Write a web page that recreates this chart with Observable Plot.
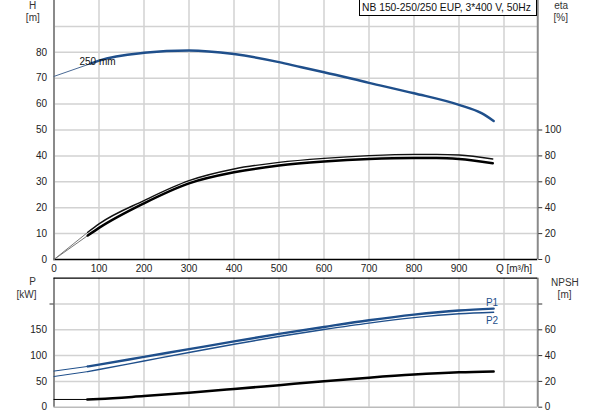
<!DOCTYPE html>
<html><head><meta charset="utf-8">
<script src="https://cdn.jsdelivr.net/npm/d3@7"></script>
<script src="https://cdn.jsdelivr.net/npm/@observablehq/plot@0.6"></script>
<style>
body{margin:0;background:#fff;}
#wrap{position:relative;width:593px;height:415px;overflow:hidden;font-family:"Liberation Sans",Arial,sans-serif;background:#fff;}
#top{position:absolute;left:0;top:0;}
#bot{position:absolute;left:0;top:275px;}
#title{position:absolute;left:359px;top:-1px;width:178px;height:17px;border:1px solid #000;background:#fff;font-size:10.3px;line-height:16px;padding-left:2px;box-sizing:border-box;white-space:nowrap;color:#111;}
</style></head>
<body>
<div id="wrap"><div id="top"></div><div id="bot"></div><div id="title"></div></div>
<script>
// ---- data ----
const titleText = "NB 150-250/250 EUP, 3*400 V, 50Hz";
const curveLabel = "250 mm";
const qTicks = [0, 100, 200, 300, 400, 500, 600, 700, 800, 900];
const qGrid = [100, 200, 300, 400, 500, 600, 700, 800, 900, 1000];
const qAxisLabel = "Q [m³/h]";
const hTicks = [0, 10, 20, 30, 40, 50, 60, 70, 80];
const hGrid = [10, 20, 30, 40, 50, 60, 70, 80, 90];
const etaTicks = [0, 20, 40, 60, 80, 100];
const pTicks = [0, 50, 100, 150];
const pGrid = [50, 100, 150, 200];
const npshTicks = [0, 20, 40, 60, 80];

// head curve (thin extension + main)
const qHThin = [0, 81];
const hThin = [70.7, 75.6];
const qH = [81, 100, 200, 300, 400, 500, 550, 600, 700, 800, 900, 950, 977];
const headH = [75.6, 76.8, 79.8, 80.7, 79.3, 76.2, 74.2, 72.3, 68.2, 64.2, 59.7, 56.5, 53.5];

// efficiency curves [%]
const qEta = [75, 100, 200, 300, 400, 500, 600, 700, 800, 850, 900, 975];
const eta1 = [21, 27.5, 45.5, 60.9, 69.9, 75.0, 78.1, 80.2, 81.2, 81.2, 80.7, 77.6];
const eta2 = [18.5, 24.4, 43.4, 58.8, 67.3, 72.5, 75.6, 77.6, 78.4, 78.4, 77.6, 74.3];

// power curves [kW]
const qP = [75, 100, 200, 300, 400, 500, 600, 700, 800, 900, 977];
const p1 = [79, 82.5, 97.5, 112.5, 127.5, 142, 155.5, 168.5, 179.5, 187.5, 191];
const p2 = [69, 73, 89.5, 106, 122, 137, 150.5, 163, 173.5, 181, 184];
const p1Start = 70;
const p2Start = 59.5;

// NPSH [m]
const qN = [74, 100, 200, 300, 400, 500, 600, 700, 800, 900, 977];
const npsh = [6, 6.3, 8.6, 11.2, 14.1, 17.1, 20.1, 22.9, 25.3, 27.0, 27.7];
const npshStart = 6;

// ---- build ----
const BLUE = "#1f4f8b";
const GRID = "#d2d2d2";
const AXIS = "#8a8a8a";
const XMAX = 1075;
const ETA_K = 2;      // eta = 2 * H units
const NPSH_K = 2.5;   // P = 2.5 * NPSH units
const font = {fontFamily: "'Liberation Sans', Arial, sans-serif", fontSize: "10px", color: "#222", background: "white"};

const hData = qH.map((q, i) => ({q, v: headH[i]}));
const hThinData = qHThin.map((q, i) => ({q, v: hThin[i]}));
const e1 = qEta.map((q, i) => ({q, v: eta1[i] / ETA_K}));
const e2 = qEta.map((q, i) => ({q, v: eta2[i] / ETA_K}));
const e1Thin = [{q: 0, v: 0}, e1[0]];
const e2Thin = [{q: 0, v: 0}, e2[0]];
const p1Data = qP.map((q, i) => ({q, v: p1[i]}));
const p2Data = qP.map((q, i) => ({q, v: p2[i]}));
const p1Thin = [{q: 0, v: p1Start}, p1Data[0]];
const p2Thin = [{q: 0, v: p2Start}, p2Data[0]];
const nData = qN.map((q, i) => ({q, v: npsh[i] * NPSH_K}));
const nThin = [{q: 0, v: npshStart * NPSH_K}, nData[0]];

const gridStyle = {stroke: GRID, strokeOpacity: 1, strokeWidth: 1.5};
const curve = "monotone-x";
const lbl = (t, anchor, dx, dy) => Plot.text([t], {frameAnchor: anchor, text: d => d, dx, dy, textAnchor: "middle", lineAnchor: "middle", fill: "#333"});

const topPlot = Plot.plot({
  width: 593, height: 275,
  marginLeft: 53.5, marginRight: 55.75, marginTop: 0, marginBottom: 16,
  x: {domain: [0, XMAX]},
  y: {domain: [0, 100]},
  style: font,
  marks: [
    Plot.gridX(qGrid, gridStyle),
    Plot.gridY(hGrid, gridStyle),
    Plot.ruleX([0, XMAX], {stroke: AXIS, strokeWidth: 2}),
    Plot.ruleY([0], {stroke: "#000", strokeWidth: 1.3}),
    Plot.axisY(hTicks, {anchor: "left", tickSize: 0, tickPadding: 7, label: null}),
    Plot.axisY(etaTicks.map(e => e / ETA_K), {anchor: "right", tickSize: 4, tickPadding: 3, stroke: "#333", tickFormat: d => Math.round(d * ETA_K), label: null}),
    Plot.axisX(qTicks, {anchor: "bottom", tickSize: 0, tickPadding: 5, label: null}),
    Plot.axisX([1000], {anchor: "bottom", tickSize: 0, tickPadding: 5, dx: 10, tickFormat: () => qAxisLabel, label: null}),
    Plot.line(hThinData, {x: "q", y: "v", stroke: "#4a6a95", strokeWidth: 1}),
    Plot.line(hData, {x: "q", y: "v", stroke: BLUE, strokeWidth: 2.5, curve}),
    Plot.line(e1Thin, {x: "q", y: "v", stroke: "#777", strokeWidth: 1}),
    Plot.line(e2Thin, {x: "q", y: "v", stroke: "#777", strokeWidth: 1}),
    Plot.line(e1, {x: "q", y: "v", stroke: "#111", strokeWidth: 1.4, curve}),
    Plot.line(e2, {x: "q", y: "v", stroke: "#000", strokeWidth: 2.5, curve}),
    Plot.text(hData, Plot.selectFirst({x: "q", y: "v", text: () => curveLabel, textAnchor: "start", dx: -11, dy: -2, fill: "#111"})),
    lbl("H", "top-left", -21.5, 5),
    lbl("[m]", "top-left", -21.2, 17),
    lbl("eta", "top-right", 23.4, 5),
    lbl("[%]", "top-right", 23, 17)
  ]
});

const botPlot = Plot.plot({
  width: 593, height: 140,
  marginLeft: 53.5, marginRight: 55.75, marginTop: 2.7, marginBottom: 8.3,
  x: {domain: [0, XMAX], axis: null},
  y: {domain: [0, 250]},
  style: font,
  marks: [
    Plot.gridX(qGrid, gridStyle),
    Plot.gridY(pGrid, gridStyle),
    Plot.ruleY([0], {stroke: "#bbb", strokeWidth: 1.5}),
    Plot.ruleX([0, XMAX], {stroke: AXIS, strokeWidth: 2}),
    Plot.ruleY([250], {stroke: "#000", strokeWidth: 1.3}),
    Plot.axisY(pTicks, {anchor: "left", tickSize: 0, tickPadding: 7, label: null}),
    Plot.axisY([200], {anchor: "left", tickSize: 4, stroke: "#333", tickFormat: () => "", label: null}),
    Plot.axisY(npshTicks.map(n => n * NPSH_K), {anchor: "right", tickSize: 4, tickPadding: 3, stroke: "#333",
      tickFormat: d => { const n = Math.round(d / NPSH_K); return n === 80 ? "" : n; }, label: null}),
    Plot.line(p1Thin, {x: "q", y: "v", stroke: BLUE, strokeWidth: 1}),
    Plot.line(p2Thin, {x: "q", y: "v", stroke: BLUE, strokeWidth: 1}),
    Plot.line(p1Data, {x: "q", y: "v", stroke: BLUE, strokeWidth: 2.4, curve}),
    Plot.line(p2Data, {x: "q", y: "v", stroke: BLUE, strokeWidth: 1.4, curve}),
    Plot.line(nThin, {x: "q", y: "v", stroke: "#000", strokeWidth: 1}),
    Plot.line(nData, {x: "q", y: "v", stroke: "#000", strokeWidth: 2.5, curve}),
    Plot.text(p1Data, Plot.selectLast({x: "q", y: "v", text: () => "P1", dx: -1.6, dy: -5.6, fill: BLUE})),
    Plot.text(p2Data, Plot.selectLast({x: "q", y: "v", text: () => "P2", dx: -1.6, dy: 8.4, fill: BLUE})),
    lbl("P", "top-left", -21.5, 3.3),
    lbl("[kW]", "top-left", -27.5, 16.3),
    lbl("NPSH", "top-right", 27.2, 4.6),
    lbl("[m]", "top-right", 26.8, 16.3)
  ]
});

document.getElementById("top").appendChild(topPlot);
document.getElementById("bot").appendChild(botPlot);
document.getElementById("title").textContent = titleText;
</script>
</body></html>
